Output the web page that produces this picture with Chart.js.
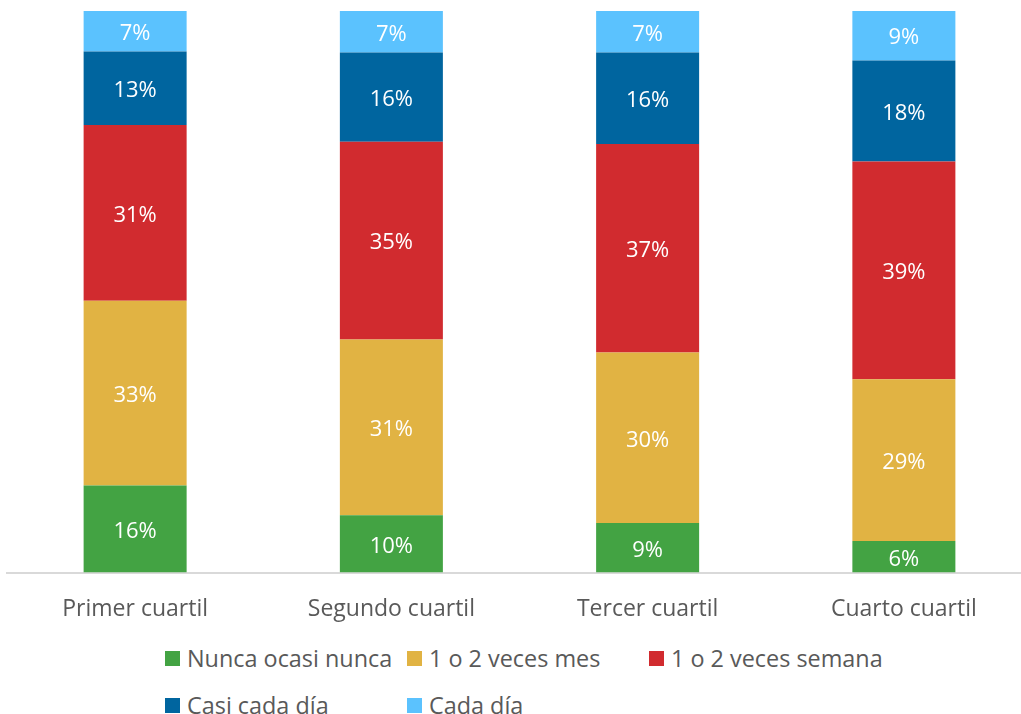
<!DOCTYPE html>
<html>
<head>
<meta charset="utf-8">
<script src="https://cdn.jsdelivr.net/npm/chart.js@4/dist/chart.umd.min.js"></script>
<style>
  html, body { margin: 0; padding: 0; background: #ffffff; overflow: hidden; width: 1021px; height: 714px; }
  #wrap { position: absolute; left: 0; top: 0; width: 1032px; height: 640px; }
  #legend { position: absolute; left: 165px; top: 641px; display: grid; grid-template-columns: 242px 242px 242px; row-gap: 13px;
            font-family: "Open Sans", sans-serif; font-size: 23.4px; color: #595959; }
  .item { display: flex; align-items: center; height: 34px; white-space: nowrap; }
  .box { width: 15px; height: 15px; margin-right: 7px; flex: none; }
</style>
</head>
<body>
<div id="wrap"><canvas id="c"></canvas></div>
<div id="legend"></div>
<script>
const categories = ["Primer cuartil", "Segundo cuartil", "Tercer cuartil", "Cuarto cuartil"];
const seriesNames = ["Nunca ocasi nunca", "1 o 2 veces mes", "1 o 2 veces semana", "Casi cada día", "Cada día"];
const nunca   = [15.5, 10.2, 8.8, 5.6];
const mes     = [32.9, 31.3, 30.4, 28.8];
const semana  = [31.3, 35.2, 37.1, 38.8];
const casi    = [13.1, 15.9, 16.3, 18.0];
const cadaDia = [7.2, 7.4, 7.4, 8.8];
const colors = ["#43A343", "#E1B343", "#D12B2F", "#00659F", "#5BC2FE"];

const seriesValues = [nunca, mes, semana, casi, cadaDia];

const labelPlugin = {
  id: "segLabels",
  afterDatasetsDraw(chart) {
    const ctx = chart.ctx;
    ctx.save();
    ctx.font = '22px "Open Sans", sans-serif';
    ctx.fillStyle = "#ffffff";
    ctx.textAlign = "center";
    ctx.textBaseline = "middle";
    chart.data.datasets.forEach((ds, di) => {
      const meta = chart.getDatasetMeta(di);
      meta.data.forEach((bar, i) => {
        const v = ds.data[i];
        const yMid = (bar.y + bar.base) / 2 + 2.5;
        ctx.fillText(Math.round(v) + "%", bar.x, yMid);
      });
    });
    ctx.restore();
  }
};

new Chart(document.getElementById("c"), {
  type: "bar",
  data: {
    labels: categories,
    datasets: seriesValues.map((vals, i) => ({
      label: seriesNames[i],
      data: vals,
      backgroundColor: colors[i],
      borderWidth: 0,
      barPercentage: 0.402,
      categoryPercentage: 1.0
    }))
  },
  options: {
    responsive: true,
    maintainAspectRatio: false,
    animation: false,
    layout: { padding: { left: 7, right: 0, top: 11, bottom: 0 } },
    plugins: { legend: { display: false }, tooltip: { enabled: false } },
    scales: {
      x: {
        stacked: true,
        grid: { display: false },
        border: { display: true, color: "#d9d9d9", width: 2 },
        ticks: { color: "#595959", font: { family: "Open Sans", size: 23 }, padding: 15, maxRotation: 0 },
        afterFit(scale) { scale.height = 67.5; }
      },
      y: {
        stacked: true,
        display: false,
        min: 0,
        max: 100
      }
    }
  },
  plugins: [labelPlugin]
});

const leg = document.getElementById("legend");
seriesNames.forEach((n, i) => {
  const d = document.createElement("div");
  d.className = "item";
  d.innerHTML = '<span class="box" style="background:' + colors[i] + '"></span><span>' + n + '</span>';
  leg.appendChild(d);
});
</script>
</body>
</html>
